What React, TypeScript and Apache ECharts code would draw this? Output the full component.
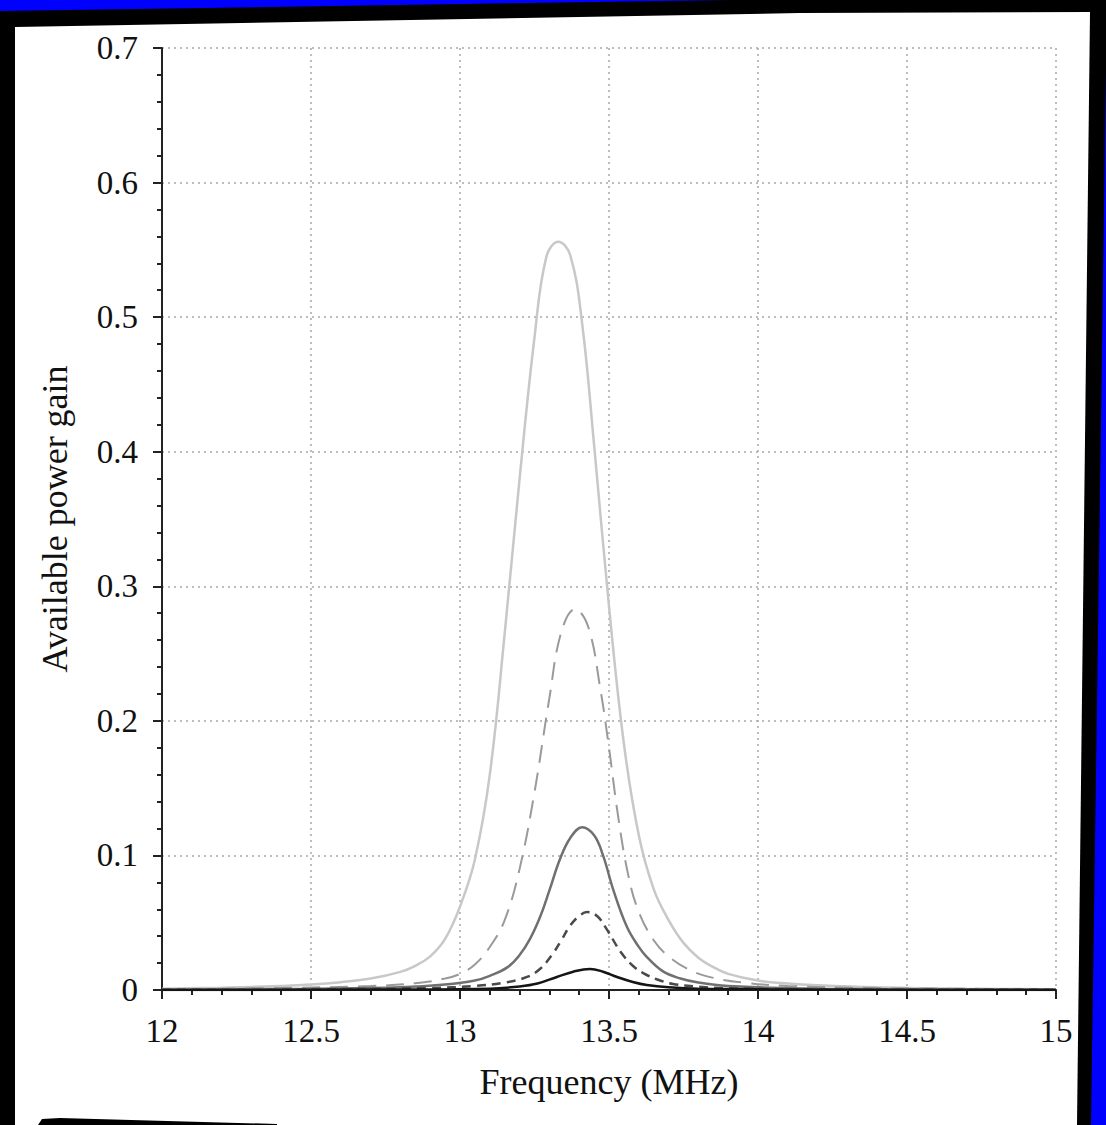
import React, { useEffect, useRef } from "react";
import * as echarts from "echarts";

// Frequency axis (MHz) and gain axis ticks
const freqTicks = [12, 12.5, 13, 13.5, 14, 14.5, 15];
const gainTicks = [0, 0.1, 0.2, 0.3, 0.4, 0.5, 0.6, 0.7];

// Light grey solid curve (largest response)
const freqLight = [12.0, 12.2, 12.4, 12.5, 12.6, 12.7, 12.8, 12.85, 12.9, 12.95, 13.0, 13.05, 13.1, 13.15, 13.2, 13.25, 13.29, 13.33, 13.37, 13.41, 13.45, 13.5, 13.55, 13.6, 13.65, 13.7, 13.75, 13.8, 13.85, 13.9, 14.0, 14.1, 14.2, 14.4, 14.7, 15.0];
const gainLight = [0.001, 0.0017, 0.003, 0.004, 0.0058, 0.0085, 0.0135, 0.018, 0.025, 0.038, 0.062, 0.097, 0.16, 0.265, 0.38, 0.485, 0.545, 0.556, 0.546, 0.495, 0.405, 0.285, 0.183, 0.115, 0.075, 0.052, 0.035, 0.024, 0.017, 0.012, 0.007, 0.0048, 0.0035, 0.002, 0.001, 0.0006];

// Grey long-dash curve
const freqGreyDash = [12.0, 12.4, 12.7, 12.85, 12.95, 13.0, 13.05, 13.1, 13.15, 13.2, 13.25, 13.3, 13.34, 13.386, 13.43, 13.47, 13.5, 13.53, 13.565, 13.6, 13.65, 13.7, 13.77, 13.85, 13.95, 14.1, 14.4, 15.0];
const gainGreyDash = [0.0005, 0.0015, 0.003, 0.005, 0.0085, 0.012, 0.019, 0.032, 0.052, 0.09, 0.147, 0.217, 0.266, 0.283, 0.27, 0.225, 0.18, 0.13, 0.085, 0.058, 0.037, 0.025, 0.015, 0.009, 0.0055, 0.003, 0.0015, 0.0005];

// Mid grey solid curve
const freqMid = [12.0, 12.5, 12.8, 12.95, 13.05, 13.1, 13.16, 13.2, 13.235, 13.27, 13.3, 13.335, 13.37, 13.41, 13.45, 13.48, 13.515, 13.56, 13.6, 13.625, 13.68, 13.74, 13.8, 13.9, 14.2, 15.0];
const gainMid = [0.0002, 0.001, 0.002, 0.004, 0.007, 0.0105, 0.017, 0.026, 0.038, 0.055, 0.074, 0.097, 0.113, 0.121, 0.115, 0.1, 0.074, 0.047, 0.032, 0.025, 0.014, 0.0085, 0.0055, 0.003, 0.001, 0.0002];

// Dark grey short-dash curve
const freqDarkDash = [12.0, 12.5, 12.9, 13.05, 13.15, 13.225, 13.27, 13.31, 13.34, 13.37, 13.4, 13.426, 13.46, 13.49, 13.54, 13.58, 13.615, 13.66, 13.715, 13.8, 13.9, 14.3, 15.0];
const gainDarkDash = [0.0001, 0.0004, 0.0015, 0.003, 0.0055, 0.0097, 0.016, 0.0265, 0.037, 0.048, 0.055, 0.058, 0.055, 0.046, 0.028, 0.018, 0.0126, 0.008, 0.0045, 0.0025, 0.0013, 0.0003, 0.0001];

// Black solid curve (smallest response)
const freqBlack = [12.0, 12.8, 13.1, 13.2, 13.26, 13.325, 13.38, 13.436, 13.48, 13.527, 13.58, 13.627, 13.7, 13.8, 14.3, 15.0];
const gainBlack = [0.0, 0.0003, 0.001, 0.0026, 0.0048, 0.0097, 0.0136, 0.0156, 0.0136, 0.0097, 0.006, 0.0037, 0.002, 0.001, 0.0002, 0.0];

const pairs = (xs: number[], ys: number[]) => xs.map((x, i) => [x, ys[i]]);

const FONT = "'Liberation Serif', 'Times New Roman', serif";

export default function App() {
  const ref = useRef<HTMLDivElement>(null);

  useEffect(() => {
    if (!ref.current) return;
    const chart = echarts.init(ref.current, undefined, { renderer: "svg" });

    const curve = (
      name: string,
      data: number[][],
      color: string,
      width: number,
      type: any
    ) => ({
      name,
      type: "line",
      data,
      smooth: 0.4,
      showSymbol: false,
      symbol: "none",
      lineStyle: { color, width, type },
      z: 3,
    });

    chart.setOption({
      animation: false,
      backgroundColor: "#000000",
      graphic: [
        // white page
        {
          type: "polygon",
          z: -10,
          silent: true,
          shape: {
            points: [
              [15, 27],
              [800, 13],
              [1090, 12],
              [1077, 1125],
              [15, 1125],
            ],
          },
          style: { fill: "#ffffff" },
        },
        // blue band along the top
        {
          type: "polygon",
          z: -9,
          silent: true,
          shape: { points: [[0, 0], [730, 0], [0, 11]] },
          style: { fill: "#0000ff" },
        },
        // blue band on the right
        {
          type: "polygon",
          z: -9,
          silent: true,
          shape: { points: [[1107, 0], [1091, 1125], [1106, 1125], [1106, 0]] },
          style: { fill: "#0000ff" },
        },
        // black wedge at the bottom left
        {
          type: "polygon",
          z: -8,
          silent: true,
          shape: { points: [[38, 1125], [42, 1119], [60, 1118], [277, 1124], [277, 1125]] },
          style: { fill: "#000000" },
        },
      ],
      grid: { left: 162, right: 50, top: 48, bottom: 135, containLabel: false },
      xAxis: {
        type: "value",
        min: freqTicks[0],
        max: freqTicks[freqTicks.length - 1],
        interval: 0.5,
        name: "Frequency (MHz)",
        nameLocation: "middle",
        nameGap: 74,
        nameTextStyle: { fontFamily: FONT, fontSize: 36, color: "#111" },
        axisLine: { show: true, onZero: false, lineStyle: { color: "#222", width: 2 } },
        axisTick: { show: true, inside: false, length: 9, lineStyle: { color: "#222", width: 2 } },
        minorTick: { show: true, splitNumber: 5, length: 5, lineStyle: { color: "#222", width: 2 } },
        axisLabel: { fontFamily: FONT, fontSize: 33, color: "#111", margin: 24 },
        splitLine: { show: true, lineStyle: { color: "#a8a8a8", width: 1.5, type: [2, 4] } },
      },
      yAxis: {
        type: "value",
        min: gainTicks[0],
        max: gainTicks[gainTicks.length - 1],
        interval: 0.1,
        name: "Available power gain",
        nameLocation: "middle",
        nameGap: 89,
        nameTextStyle: { fontFamily: FONT, fontSize: 36, color: "#111" },
        axisLine: { show: true, lineStyle: { color: "#222", width: 2 } },
        axisTick: { show: true, inside: false, length: 9, lineStyle: { color: "#222", width: 2 } },
        minorTick: { show: true, splitNumber: 5, length: 5, lineStyle: { color: "#222", width: 2 } },
        axisLabel: { fontFamily: FONT, fontSize: 33, color: "#111", margin: 24 },
        splitLine: { show: true, lineStyle: { color: "#a8a8a8", width: 1.5, type: [2, 4] } },
      },
      series: [
        curve("light", pairs(freqLight, gainLight), "#c8c8c8", 2.5, "solid"),
        curve("greyDash", pairs(freqGreyDash, gainGreyDash), "#9a9a9a", 2, [18, 10]),
        curve("mid", pairs(freqMid, gainMid), "#707070", 2.5, "solid"),
        curve("darkDash", pairs(freqDarkDash, gainDarkDash), "#4a4a4a", 2.5, [9, 6]),
        curve("black", pairs(freqBlack, gainBlack), "#151515", 2.5, "solid"),
      ],
    });

    return () => chart.dispose();
  }, []);

  return (
    <div
      ref={ref}
      style={{ position: "fixed", left: 0, top: 0, width: 1106, height: 1125 }}
    />
  );
}
